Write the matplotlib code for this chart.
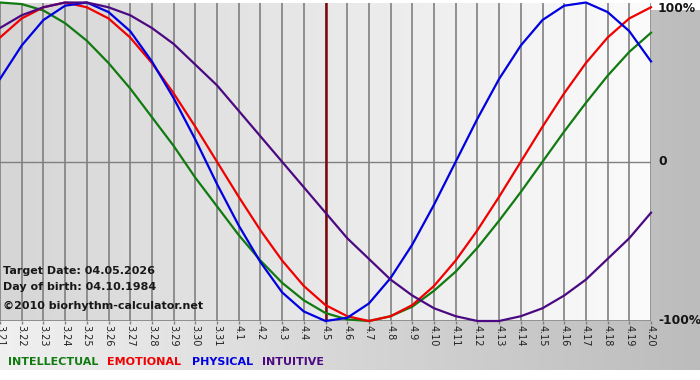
import numpy as np
import matplotlib
matplotlib.use("Agg")
import matplotlib.pyplot as plt
from matplotlib.colors import LinearSegmentedColormap

# days shown (month.day), target date is 4.5
days = ["3.21", "3.22", "3.23", "3.24", "3.25", "3.26", "3.27", "3.28", "3.29", "3.30",
        "3.31", "4.1", "4.2", "4.3", "4.4", "4.5", "4.6", "4.7", "4.8", "4.9", "4.10",
        "4.11", "4.12", "4.13", "4.14", "4.15", "4.16", "4.17", "4.18", "4.19", "4.20"]
target_day = "4.5"

# cycle values per day (-1 .. 1)
intellectual = [1.00, 0.99, 0.95, 0.87, 0.76, 0.62, 0.46, 0.28, 0.10, -0.10, -0.28,
                -0.46, -0.62, -0.76, -0.87, -0.95, -0.99, -1.00, -0.97, -0.91, -0.81,
                -0.69, -0.54, -0.37, -0.19, 0.00, 0.19, 0.37, 0.54, 0.69, 0.81]
emotional = [0.78, 0.90, 0.97, 1.00, 0.97, 0.90, 0.78, 0.62, 0.43, 0.22, 0.00,
             -0.22, -0.43, -0.62, -0.78, -0.90, -0.97, -1.00, -0.97, -0.90, -0.78,
             -0.62, -0.43, -0.22, 0.00, 0.22, 0.43, 0.62, 0.78, 0.90, 0.97]
physical = [0.52, 0.73, 0.89, 0.98, 1.00, 0.94, 0.82, 0.63, 0.40, 0.14, -0.14,
            -0.40, -0.63, -0.82, -0.94, -1.00, -0.98, -0.89, -0.73, -0.52, -0.27,
            0.00, 0.27, 0.52, 0.73, 0.89, 0.98, 1.00, 0.94, 0.82, 0.63]
intuitive = [0.84, 0.92, 0.97, 1.00, 1.00, 0.97, 0.92, 0.84, 0.74, 0.61, 0.48,
             0.32, 0.16, 0.00, -0.16, -0.32, -0.48, -0.61, -0.74, -0.84, -0.92,
             -0.97, -1.00, -1.00, -0.97, -0.92, -0.84, -0.74, -0.61, -0.48, -0.32]

series_names = ["INTELLECTUAL", "EMOTIONAL", "PHYSICAL", "INTUITIVE"]
series_colors = ["#117a11", "#f00000", "#0000e0", "#4b0a82"]
info_lines = ["Target Date: 04.05.2026", "Day of birth: 04.10.1984",
              "\u00a92010 biorhythm-calculator.net"]

W, H = 700, 380
fig = plt.figure(figsize=(W / 100, H / 100), dpi=100)
fig.patch.set_facecolor("white")

# grey gradient behind everything (white strip at the very bottom)
bg = fig.add_axes([0, 10 / H, 1, 360 / H])
bg.axis("off")
bg_cmap = LinearSegmentedColormap.from_list("bg", ["#f0f0f0", "#bcbcbc"])
bg.imshow(np.linspace(0, 1, 256)[None, :], aspect="auto", cmap=bg_cmap,
          extent=[0, 1, 0, 1])
bg.set_xlim(0, 1)
bg.set_ylim(0, 1)

# plot area
x0, x1, ytop, ybot = 0, 651, 2.5, 321
ax = fig.add_axes([x0 / W, 1 - ybot / H, (x1 - x0) / W, (ybot - ytop) / H])
x = np.arange(len(days))
ax.set_xlim(0, len(days) - 1)
ax.set_ylim(-1, 1)
plot_cmap = LinearSegmentedColormap.from_list("pl", ["#d6d6d6", "#fbfbfb"])
ax.imshow(np.linspace(0, 1, 256)[None, :], aspect="auto", cmap=plot_cmap,
          extent=[0, len(days) - 1, -1, 1], zorder=0)

for s in ax.spines.values():
    s.set_visible(False)
ax.axhline(-1, color="#808080", lw=1.2, zorder=1)
for xi in x:
    ax.axvline(xi, color="#808080", lw=1.2, zorder=1)
ax.axhline(0, color="#808080", lw=1.0, zorder=1)

ax.set_xticks(x)
ax.set_xticklabels(days, rotation=-90, fontsize=7, color="#202020")
ax.tick_params(axis="x", length=2, width=1, color="#808080", pad=1)
ax.set_yticks([])

# target date line
ax.axvline(days.index(target_day), color="#7a0a0a", lw=1.8, zorder=2)

for vals, col in zip([intellectual, emotional, physical, intuitive], series_colors):
    ax.plot(x, vals, color=col, lw=1.6, zorder=3, clip_on=False,
            solid_joinstyle="round")

# right-hand percent labels
for yv, lab, va in [(1, "100%", "top"), (0, "0", "center"), (-1, "-100%", "center")]:
    ax.text(1.0 + 7 / 651, yv, lab, transform=ax.get_yaxis_transform(),
            ha="left", va=va, fontsize=8.8, fontweight="bold", color="#141414")

# info text in the lower left corner
for line, ypx in zip(info_lines, [271, 287, 306]):
    fig.text(3 / W, 1 - ypx / H, line, ha="left", va="center",
             fontsize=8, fontweight="bold", color="#181818")

# legend words
for name, col, xpx in zip(series_names, series_colors, [8, 107, 192, 262]):
    fig.text(xpx / W, 1 - 362 / H, name, ha="left", va="center",
             fontsize=8, fontweight="bold", color=col)

fig.savefig("out.png", dpi=100, facecolor=fig.get_facecolor())
